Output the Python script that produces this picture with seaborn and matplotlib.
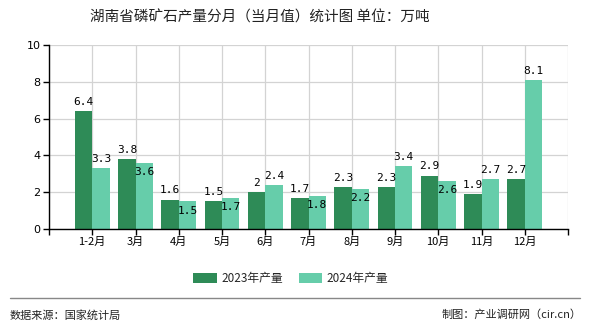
import matplotlib
matplotlib.use("Agg")
import matplotlib.pyplot as plt
import seaborn as sns
import pandas as pd

categories = ["1-2月", "3月", "4月", "5月", "6月", "7月", "8月", "9月", "10月", "11月", "12月"]
values_2023 = [6.4, 3.8, 1.6, 1.5, 2, 1.7, 2.3, 2.3, 2.9, 1.9, 2.7]
values_2024 = [3.3, 3.6, 1.5, 1.7, 2.4, 1.8, 2.2, 3.4, 2.6, 2.7, 8.1]
series_names = ["2023年产量", "2024年产量"]
colors = ["#2e8b57", "#66cdaa"]

df = pd.DataFrame({
    "月份": categories * 2,
    "产量": values_2023 + values_2024,
    "系列": [series_names[0]] * len(categories) + [series_names[1]] * len(categories),
})

sns.set_theme(style="white")
plt.rcParams["font.family"] = ["Noto Sans CJK SC", "DejaVu Sans"]

fig = plt.figure(figsize=(5.9, 3.3), dpi=100)
ax = fig.add_axes([49 / 590, 1 - 229 / 330, (568 - 49) / 590, (229 - 45) / 330])

sns.barplot(data=df, x="月份", y="产量", hue="系列", order=categories,
            hue_order=series_names, palette=colors, width=0.8, ax=ax,
            saturation=1, legend=True, errorbar=None, linewidth=0, edgecolor="none")

cont23, cont24 = ax.containers[0], ax.containers[1]
ax.bar_label(cont23, labels=[f"{v:g}" for v in values_2023], padding=3,
             fontsize=8, family="DejaVu Sans Mono", color="black")
for bar, v23, v24 in zip(cont24, values_2023, values_2024):
    x = bar.get_x() + bar.get_width() / 2
    inside = -1 < (v24 - v23) < 0.3
    ax.annotate(f"{v24:g}", (x, v24), xytext=(0, -3 if inside else 3),
                textcoords="offset points", ha="center",
                va="top" if inside else "bottom",
                fontsize=8, family="DejaVu Sans Mono", color="black")

ax.set_xlim(-1, 11)
ax.set_ylim(0, 10)
ax.set_xticks(range(-1, 12))
ax.set_xticklabels([""] + categories + [""], fontsize=8)
ax.set_yticks(range(0, 11, 2))
ax.set_yticklabels([str(v) for v in range(0, 11, 2)], fontsize=8, family="DejaVu Sans")
ax.set_xlabel("")
ax.set_ylabel("")
ax.grid(True, color="#d3d3d3", linewidth=0.9)
ax.set_axisbelow(True)
for s in ["top", "right"]:
    ax.spines[s].set_visible(False)
for s in ["left", "bottom"]:
    ax.spines[s].set_color("black")
    ax.spines[s].set_linewidth(1)
ax.tick_params(axis="both", which="both", direction="out", length=4, width=1,
               color="black", left=True, bottom=True, pad=2, labelcolor="black")

leg = ax.legend(loc="upper center", bbox_to_anchor=(0.466, -0.175), ncol=2, frameon=False,
                fontsize=8.5, handlelength=2.0, handleheight=0.9, columnspacing=1.3,
                handletextpad=0.4)

fig.text(260 / 590, 1 - 17 / 330, "湖南省磷矿石产量分月（当月值）统计图 单位：万吨",
         ha="center", va="center", fontsize=10.5, color="#222222")
fig.add_artist(plt.Line2D([10 / 590, 580 / 590], [1 - 298 / 330, 1 - 298 / 330],
                          color="#888888", linewidth=1))
fig.text(10 / 590, 1 - 315 / 330, "数据来源：国家统计局", ha="left", va="center",
         fontsize=8, color="#222222")
fig.text(582 / 590, 1 - 315 / 330, "制图：产业调研网（cir.cn）", ha="right", va="center",
         fontsize=8, color="#222222")

fig.savefig("out.png", dpi=100)
